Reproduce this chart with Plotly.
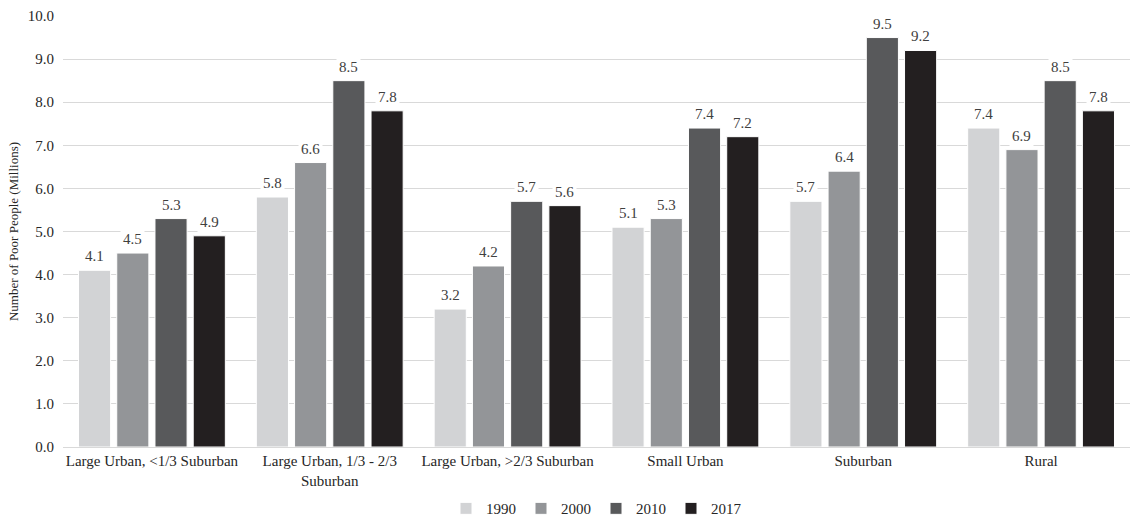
import plotly.graph_objects as go

categories = ["Large Urban, <1/3 Suburban", "Large Urban, 1/3 - 2/3<br>Suburban",
              "Large Urban, >2/3 Suburban", "Small Urban", "Suburban", "Rural"]
years = ["1990", "2000", "2010", "2017"]
v1990 = [4.1, 5.8, 3.2, 5.1, 5.7, 7.4]
v2000 = [4.5, 6.6, 4.2, 5.3, 6.4, 6.9]
v2010 = [5.3, 8.5, 5.7, 7.4, 9.5, 8.5]
v2017 = [4.9, 7.8, 5.6, 7.2, 9.2, 7.8]
series = [v1990, v2000, v2010, v2017]
colors = ["#D2D3D5", "#939598", "#58595B", "#231F20"]

FONT = "Liberation Serif"

fig = go.Figure()
for name, vals, col in zip(years, series, colors):
    fig.add_trace(go.Bar(x=categories, y=vals, name=name,
                         marker=dict(color=col, line=dict(color="white", width=1))))

# value labels with white boxes over the gridlines
W, L, R = 1134, 63, 4
cat_w = (W - L - R) / len(categories)
bargap, groupgap = 0.14, 0.16
slot = cat_w * (1 - bargap) / len(years)
for i, vals in enumerate(series):
    for c, v in zip(categories, vals):
        fig.add_annotation(x=c, y=v, text=f"{v:.1f}", showarrow=False,
                           yanchor="bottom", yshift=3,
                           xshift=(i - 1.5) * slot,
                           bgcolor="white", borderpad=2,
                           font=dict(family=FONT, size=15, color="#404040"))

fig.update_layout(
    width=W, height=518, barmode="group", bargap=bargap, bargroupgap=groupgap,
    margin=dict(l=L, r=R, t=16, b=71),
    plot_bgcolor="white", paper_bgcolor="white",
    font=dict(family=FONT, size=15, color="#262626"),
    legend=dict(orientation="h", x=0.5, xanchor="center",
                yref="container", y=0.05, yanchor="top",
                itemwidth=30, font=dict(family=FONT, size=15),
                traceorder="normal"),
    yaxis=dict(range=[0, 10], dtick=1, tickformat=".1f", showgrid=True,
               gridcolor="#D9D9D9", gridwidth=1, zeroline=False,
               showline=False, ticks="", ticklabelstandoff=8, automargin=False,
               title=dict(text="Number of Poor People (Millions)",
                          font=dict(family=FONT, size=13), standoff=6)),
    xaxis=dict(showline=True, linecolor="#D9D9D9", linewidth=1, ticks="",
               automargin=False, tickfont=dict(family=FONT, size=15)),
)

fig.write_html("out.html")
